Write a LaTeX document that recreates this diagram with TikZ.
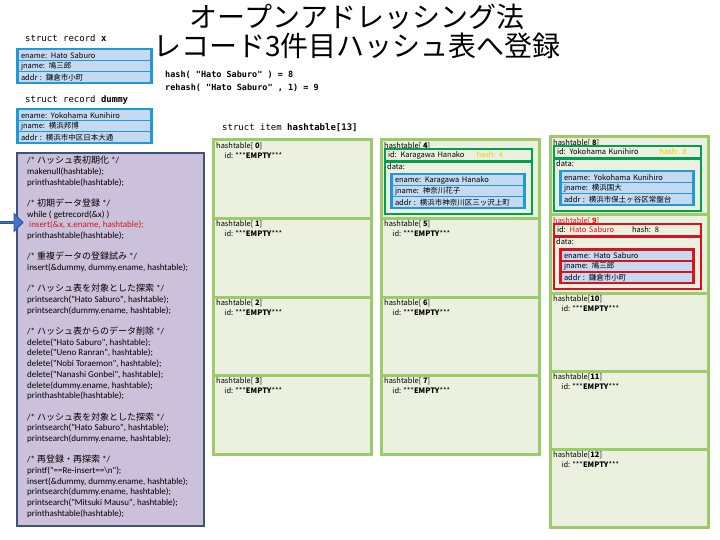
\documentclass[tikz,border=0pt]{standalone}
\usepackage{fontspec}
\setmainfont{Noto Sans CJK JP}
\newfontfamily\codefont{Carlito}
\newfontfamily\jpfont{Noto Sans CJK JP}
\newfontfamily\monofont{DejaVu Sans Mono}
\usepackage{tikz}
\usetikzlibrary{positioning,calc,shapes.arrows}

\definecolor{cellgreen}{HTML}{9BCB6A}
\definecolor{cellfill}{HTML}{EBF1DE}
\definecolor{idgreen}{HTML}{00A054}
\definecolor{reccyan}{HTML}{1E9ADB}
\definecolor{rowblue}{HTML}{C5D9F1}
\definecolor{codefill}{HTML}{CCC1DA}
\definecolor{codeedge}{HTML}{3F5378}
\definecolor{hashred}{HTML}{D7141E}
\definecolor{hashyellow}{HTML}{FFC000}
\definecolor{arrowblue}{HTML}{4472C4}
\definecolor{arrowedge}{HTML}{2F5597}

% record with three rows: name, top-left, width, frame colour, ename, jname, addr
\newcommand{\recordbox}[7]{%
  \pgfmathsetmacro{\rowtw}{#3-10}
  \node[recframe, fill=#4, minimum width=#3] (#1) at #2 {};
  \node[recrow, text width=\rowtw pt] (#1-e) at ($(#1.north west)+(3,2.5)$) {#5};
  \node[recrow, text width=\rowtw pt] (#1-j) at ($(#1.north west)+(3,13.5)$) {#6};
  \node[recrow, text width=\rowtw pt] (#1-a) at ($(#1.north west)+(3,24.5)$) {#7};
}
% filled slot: cell, id line, box colour, record colour, ename, jname, addr
\newcommand{\slotentry}[7]{%
  \node[idbox, draw=#3] (#1-id) at ($(#1.north west)+(4,9)$) {#2};
  \node[databox, draw=#3] (#1-data) at ($(#1.north west)+(4,22)$) {};
  \node[celllabel] (#1-dl) at ($(#1-data.north west)+(2,1)$) {data:};
  \recordbox{#1-rec}{($(#1-data.north west)+(5,11)$)}{136}{#4}{#5}{#6}{#7}
}

\begin{document}
\begin{tikzpicture}[
  x=1pt, y=-1pt,
  cell/.style={draw=cellgreen, line width=3pt, fill=cellfill, anchor=north west,
    minimum width=158pt, minimum height=78.5pt, inner sep=0pt, outer sep=0pt},
  celllabel/.style={anchor=north west, inner sep=0pt, align=left,
    font=\fontsize{7.5}{10}\selectfont},
  recframe/.style={anchor=north west, minimum height=36pt, inner sep=0pt, outer sep=0pt},
  recrow/.style={anchor=north west, fill=rowblue, inner xsep=2pt, inner ysep=0pt,
    minimum height=9.5pt, align=left, outer sep=0pt, font=\fontsize{7.5}{8}\selectfont},
  idbox/.style={anchor=north west, fill=cellfill, line width=2pt, text width=141pt,
    inner xsep=3pt, inner ysep=0pt, minimum height=12pt, align=left, outer sep=0pt,
    font=\fontsize{7.5}{8}\selectfont},
  databox/.style={anchor=north west, fill=cellfill, line width=2.5pt,
    minimum width=147pt, minimum height=52pt, inner sep=0pt, outer sep=0pt},
  structlabel/.style={anchor=west, inner sep=0pt, font=\monofont\fontsize{9}{10}\selectfont}
]
\useasboundingbox (0,0) rectangle (720,540);

% title
\node[align=center, font=\fontsize{28}{29}\selectfont] (title) at (357,31)
  {オープンアドレッシング法\\レコード3件目ハッシュ表へ登録};
\node[anchor=west, align=left, inner sep=0pt, font=\monofont\bfseries\fontsize{8.5}{13}\selectfont]
  (hashinfo) at (165,81.5) {hash( "Hato Saburo" ) = 8\\rehash( "Hato Saburo" , 1) = 9};

% records
\node[structlabel] (xlabel) at (25,38) {struct record \textbf{x}};
\recordbox{recx}{(16,48)}{137}{reccyan}{ename: Hato Saburo}{jname: 鳩三郎}{addr : 鎌倉市小町}
\node[structlabel] (dummylabel) at (25,100) {struct record \textbf{dummy}};
\recordbox{recdummy}{(16,108)}{137}{reccyan}{ename: Yokohama Kunihiro}{jname: 横浜邦博}{addr : 横浜市中区日本大通}

% program
\node[anchor=north west, fill=codefill, draw=codeedge, line width=2pt,
  minimum width=187pt, minimum height=373pt, inner sep=0pt] (code) at (16,152) {};
\node[anchor=north west, align=left, inner sep=0pt, font=\codefont\fontsize{9}{10.75}\selectfont]
  (codetext) at ($(code.north west)+(11,4)$) {%
  /* {\jpfont ハッシュ表初期化} */\\
  makenull(hashtable);\\
  printhashtable(hashtable);\\[10.4pt]
  /* {\jpfont 初期データ登録} */\\
  while ( getrecord(\&x) )\\
  \hspace{2pt}\textcolor{hashred}{insert(\&x, x.ename, hashtable);}\\
  printhashtable(hashtable);\\[10.4pt]
  /* {\jpfont 重複データの登録試み} */\\
  insert(\&dummy, dummy.ename, hashtable);\\[10.4pt]
  /* {\jpfont ハッシュ表を対象とした探索} */\\
  printsearch("Hato Saburo", hashtable);\\
  printsearch(dummy.ename, hashtable);\\[10.4pt]
  /* {\jpfont ハッシュ表からのデータ削除} */\\
  delete("Hato Saburo", hashtable);\\
  delete("Ueno Ranran", hashtable);\\
  delete("Nobi Toraemon", hashtable);\\
  delete("Nanashi Gonbei", hashtable);\\
  delete(dummy.ename, hashtable);\\
  printhashtable(hashtable);\\[10.4pt]
  /* {\jpfont ハッシュ表を対象とした探索} */\\
  printsearch("Hato Saburo", hashtable);\\
  printsearch(dummy.ename, hashtable);\\[10.4pt]
  /* {\jpfont 再登録・再探索} */\\
  printf("==Re-insert==\textbackslash n");\\
  insert(\&dummy, dummy.ename, hashtable);\\
  printsearch(dummy.ename, hashtable);\\
  printsearch("Mitsuki Mausu", hashtable);\\
  printhashtable(hashtable);};
\node[single arrow, fill=arrowblue, draw=arrowedge, line width=0.8pt,
  minimum height=23pt, minimum width=18pt, single arrow head extend=3pt,
  inner sep=0pt] (insarrow) at (11,222.5) {};

% hash table
\node[structlabel] (tablelabel) at (222,128) {struct item \textbf{hashtable[13]}};
\foreach \n/\x/\y in {0/213/140, 1/213/218.5, 2/213/297, 3/213/375.5,
    4/381/140, 5/381/218.5, 6/381/297, 7/381/375.5,
    8/550/137, 9/550/215, 10/550/293, 11/550/371, 12/550/449}
  \node[cell] (c\n) at (\x,\y) {};
\foreach \n in {0,1,2,3,5,6,7}
  \node[celllabel] (l\n) at ($(c\n.north west)+(3,2)$)
    {hashtable[ \textbf{\n}]\\\hspace{1.1em}id: ***\textbf{EMPTY}***};
\foreach \n in {10,11,12}
  \node[celllabel] (l\n) at ($(c\n.north west)+(3,2)$)
    {hashtable[\textbf{\n}]\\\hspace{1.1em}id: ***\textbf{EMPTY}***};

\node[celllabel] (l4) at ($(c4.north west)+(3,2)$) {hashtable[ \textbf{4}]};
\slotentry{c4}{id: Karagawa Hanako\hspace{1.6em}\textcolor{hashyellow}{hash: 4}}{idgreen}{reccyan}
  {ename: Karagawa Hanako}{jname: 神奈川花子}{addr : 横浜市神奈川区三ッ沢上町}
\node[celllabel] (l8) at ($(c8.north west)+(3,2)$) {hashtable[ \textbf{8}]};
\slotentry{c8}{id: Yokohama Kunihiro\hspace{2.8em}\textcolor{hashyellow}{hash: 8}}{idgreen}{reccyan}
  {ename: Yokohama Kunihiro}{jname: 横浜国大}{addr : 横浜市保土ヶ谷区常盤台}
\node[celllabel] (l9) at ($(c9.north west)+(3,2)$) {\textcolor{hashred}{hashtable[ \textbf{9}]}};
\slotentry{c9}{id: \textcolor{hashred}{Hato Saburo}\hspace{2.4em}hash: 8}{hashred}{hashred}
  {ename: Hato Saburo}{jname: 鳩三郎}{addr : 鎌倉市小町}
\end{tikzpicture}
\end{document}
